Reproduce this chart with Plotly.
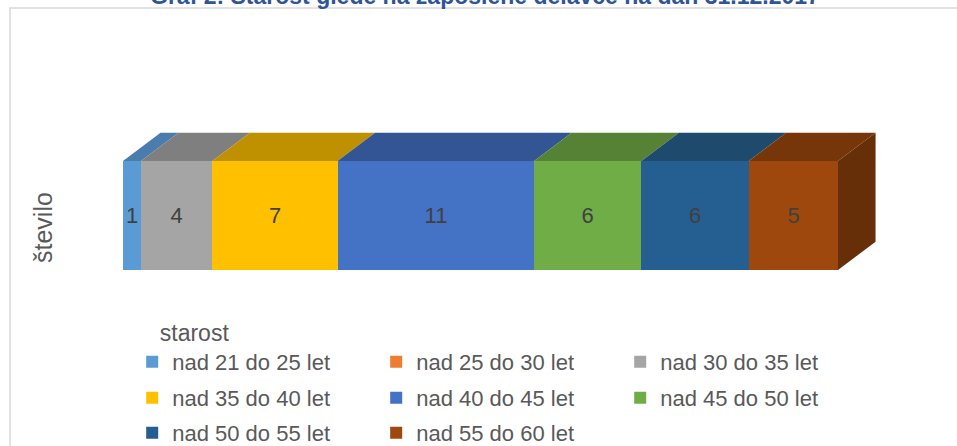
import plotly.graph_objects as go

# ---------------- data ----------------
categories = ["nad 21 do 25 let", "nad 25 do 30 let", "nad 30 do 35 let",
              "nad 35 do 40 let", "nad 40 do 45 let", "nad 45 do 50 let",
              "nad 50 do 55 let", "nad 55 do 60 let"]
values = [1, 0, 4, 7, 11, 6, 6, 5]
front_colors = ["#5B9BD5", "#ED7D31", "#A5A5A5", "#FFC000",
                "#4472C4", "#70AD47", "#255E91", "#9E480E"]
top_colors = ["#4A7DAB", "#B25E25", "#7F7F7F", "#BF9000",
              "#335593", "#568235", "#1E4A6E", "#77360A"]
side_color = "#672F08"
axis_label = "število"
legend_title = "starost"
title_text = "Graf 2: Starost glede na zaposlene delavce na dan 31.12.2017"

FONT = "Liberation Sans"
GRAY = "#595959"

# 3D depth offsets in data units
DX = 2.1
DY = 0.26
HALF = 0.5

fig = go.Figure()

legend_of = ["legend", "legend", "legend", "legend2", "legend2", "legend2", "legend3", "legend3"]

for i, (name, v) in enumerate(zip(categories, values)):
    fig.add_trace(go.Bar(
        x=[v], y=[0], orientation="h", width=2 * HALF, name=name,
        marker=dict(color=front_colors[i], line=dict(width=0)),
        text=[str(v)] if v > 0 else [""], textposition="inside",
        insidetextanchor="middle", constraintext="none",
        textfont=dict(family=FONT, size=22, color="#404040"),
        legend=legend_of[i], hoverinfo="x+name",
    ))

# top faces
cum = 0
for i, v in enumerate(values):
    c0, c1 = cum, cum + v
    cum = c1
    if v == 0:
        continue
    fig.add_trace(go.Scatter(
        x=[c0, c1, c1 + DX, c0 + DX, c0],
        y=[HALF, HALF, HALF + DY, HALF + DY, HALF],
        fill="toself", fillcolor=top_colors[i], mode="lines",
        line=dict(width=0), showlegend=False, hoverinfo="skip"))

# right side face
total = sum(values)
fig.add_trace(go.Scatter(
    x=[total, total + DX, total + DX, total, total],
    y=[-HALF, -HALF + DY, HALF + DY, HALF, -HALF],
    fill="toself", fillcolor=side_color, mode="lines",
    line=dict(width=0), showlegend=False, hoverinfo="skip"))

W, H = 957, 446
ML, MR, MT, MB = 123, 77, 100, 146
pw, ph = W - ML - MR, H - MT - MB

def px_x(p):
    return (p - ML) / pw

def px_y(p):
    return (H - MB - p) / ph

fig.add_shape(type="rect", xref="paper", yref="paper",
              x0=px_x(10), x1=px_x(1100), y0=px_y(8), y1=px_y(600),
              line=dict(color="#D9D9D9", width=1.5), fillcolor="rgba(0,0,0,0)", layer="below")

fig.add_annotation(text=axis_label, xref="paper", yref="paper",
                   x=px_x(43), y=px_y(228), xanchor="center", yanchor="middle",
                   textangle=-90, showarrow=False,
                   font=dict(family=FONT, size=25, color=GRAY))

fig.add_annotation(text=f"<b>{title_text}</b>", xref="paper", yref="paper",
                   x=px_x(485), y=px_y(-4), xanchor="center", yanchor="middle",
                   showarrow=False,
                   font=dict(family=FONT, size=23, color="#2F5597"))

LX = 0.135 + 3 / W
leg_common = dict(orientation="h", xref="container", yref="container",
                  xanchor="left", yanchor="middle", traceorder="normal",
                  entrywidth=199, entrywidthmode="pixels",
                  font=dict(family=FONT, size=22, color=GRAY),
                  bgcolor="rgba(0,0,0,0)", itemclick=False)

fig.update_layout(
    width=W, height=H,
    margin=dict(l=ML, r=MR, t=MT, b=MB),
    paper_bgcolor="white", plot_bgcolor="white",
    barmode="stack", bargap=0,
    xaxis=dict(range=[0, total * pw / 715], visible=False, fixedrange=True),
    yaxis=dict(range=[-0.775, 1.06], visible=False, fixedrange=True),
    legend=dict(**leg_common, x=LX, y=1 - 347 / H,
                title=dict(text="\u00a0" * 4 + legend_title, side="top",
                           font=dict(family=FONT, size=23, color=GRAY))),
    legend2=dict(**leg_common, x=LX, y=1 - 398 / H),
    legend3=dict(**leg_common, x=LX, y=1 - 433 / H),
    showlegend=True,
)

fig.write_html("out.html", config={"displayModeBar": False},
               post_script="document.body.style.margin='0px';")
